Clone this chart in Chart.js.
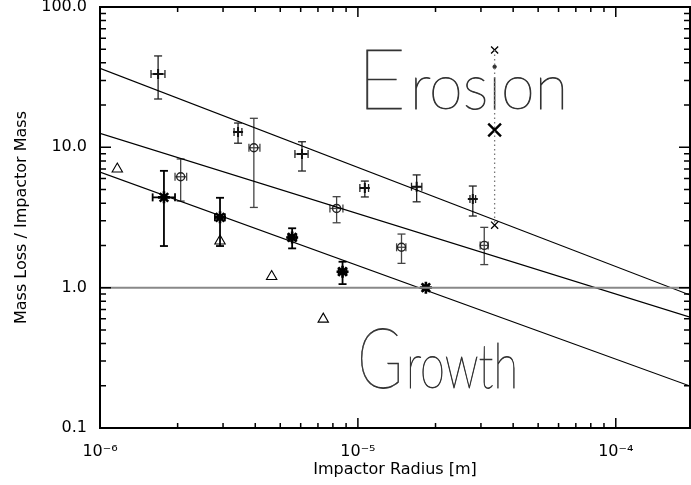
<!DOCTYPE html>
<html>
<head>
<meta charset="utf-8">
<script src="https://cdn.jsdelivr.net/npm/chart.js@4"></script>
<style>
  html, body { margin: 0; padding: 0; background: #fff; }
  #wrap { width: 691px; height: 485px; }
</style>
</head>
<body>
<div id="wrap"><canvas id="c"></canvas></div>
<script>
// axis range
const xMin = 1e-6, xMax = 1.94e-4
const yMin = 0.1, yMax = 100

// upper group (+ markers)
const plusX   = [1.68e-6, 3.43e-6, 6.07e-6, 1.064e-5, 1.69e-5, 2.79e-5]
const plusY   = [33.3, 12.85, 8.96, 5.13, 5.24, 4.28]
const plusYLo = [22.1, 10.7, 6.78, 4.43, 4.09, 3.24]
const plusYHi = [44.8, 14.9, 10.96, 5.75, 6.36, 5.3]
const plusXLo = [1.577e-6, 3.31e-6, 5.70e-6, 1.018e-5, 1.614e-5, 2.72e-5]
const plusXHi = [1.786e-6, 3.55e-6, 6.41e-6, 1.10e-5, 1.77e-5, 2.86e-5]

// middle group (ring markers)
const ringX   = [2.055e-6, 3.95e-6, 8.27e-6, 1.476e-5, 3.09e-5]
const ringY   = [6.17, 9.93, 3.67, 1.94, 2.0]
const ringYLo = [4.14, 3.73, 2.90, 1.49, 1.46]
const ringYHi = [8.26, 16.1, 4.45, 2.41, 2.69]
const ringXLo = [1.954e-6, 3.78e-6, 7.79e-6, 1.413e-5, 2.98e-5]
const ringXHi = [2.168e-6, 4.17e-6, 8.75e-6, 1.535e-5, 3.20e-5]

// lower group (star markers)
const starX   = [1.77e-6, 2.92e-6, 5.56e-6, 8.72e-6, 1.835e-5]
const starY   = [4.40, 3.17, 2.28, 1.30, 1.0]
const starYLo = [1.98, 1.98, 1.905, 1.06, 1.0]
const starYHi = [6.8, 4.37, 2.65, 1.53, 1.0]
const starXLo = [1.60e-6, 2.79e-6, 5.37e-6, 8.42e-6, 1.79e-5]
const starXHi = [1.954e-6, 3.05e-6, 5.77e-6, 9.03e-6, 1.88e-5]

// triangles
const triX = [1.167e-6, 2.92e-6, 4.63e-6, 7.34e-6]
const triY = [7.0, 2.15, 1.20, 0.597]

// single column at the right
const colX = [3.39e-5]
const colSmallY = [49.4, 2.79]
const colBigY = [13.3]

// fit lines (values at the two ends of the x range)
const fitX = [xMin, xMax]
const fitTop = [36.6, 0.886]
const fitMid = [12.6, 0.617]
const fitLow = [6.67, 0.199]
const unityY = [1, 1]

const pts = (xs, ys) => xs.map((x, i) => ({x: x, y: ys[i]}))

const errorBars = {
  id: 'errorBars',
  beforeDatasetsDraw(chart) {
    const ctx = chart.ctx, sx = chart.scales.x, sy = chart.scales.y
    const seg = (a, b, c, d) => { ctx.beginPath(); ctx.moveTo(a, b); ctx.lineTo(c, d); ctx.stroke() }
    chart.data.datasets.forEach(ds => {
      const e = ds.errors
      if (!e) return
      ctx.save()
      ctx.strokeStyle = e.color
      ctx.lineWidth = e.width
      const cap = e.cap
      ds.data.forEach((p, i) => {
        const px = sx.getPixelForValue(p.x), py = sy.getPixelForValue(p.y)
        const a = sy.getPixelForValue(e.yLo[i]), b = sy.getPixelForValue(e.yHi[i])
        if (Math.abs(a - b) > 1) {
          seg(px, a, px, b); seg(px - cap, a, px + cap, a); seg(px - cap, b, px + cap, b)
        }
        const l = sx.getPixelForValue(e.xLo[i]), r = sx.getPixelForValue(e.xHi[i])
        if (Math.abs(r - l) > 1) {
          seg(l, py, r, py); seg(l, py - cap, l, py + cap); seg(r, py - cap, r, py + cap)
        }
      })
      ctx.restore()
    })
  }
}

// big region words: capital and lower case sized separately, squeezed to width
const drawWord = (ctx, word, x, base, width) => {
  const capFont = '100 84px Lato', lowFont = '100 61px Lato'
  ctx.font = capFont
  const w1 = ctx.measureText(word[0]).width
  ctx.font = lowFont
  const w2 = ctx.measureText(word.slice(1)).width
  const k = width / (w1 + w2 + 4)
  ctx.save()
  ctx.translate(x, base)
  ctx.scale(k, 1)
  ctx.font = capFont
  ctx.fillText(word[0], 0, 0)
  ctx.strokeText(word[0], 0, 0)
  ctx.font = lowFont
  ctx.fillText(word.slice(1), w1 + 4, 0)
  ctx.strokeText(word.slice(1), w1 + 4, 0)
  ctx.restore()
}

const labels = {
  id: 'labels',
  beforeDatasetsDraw(chart) {
    const ctx = chart.ctx
    ctx.save()
    ctx.fillStyle = '#333'
    ctx.strokeStyle = '#333'
    ctx.lineWidth = 0.8
    ctx.textBaseline = 'alphabetic'
    ctx.textAlign = 'left'
    drawWord(ctx, 'Erosion', 357, 109, 211)
    drawWord(ctx, 'Growth', 357, 388, 161)
    ctx.restore()
  }
}

const frame = {
  id: 'frame',
  afterDraw(chart) {
    const ctx = chart.ctx, a = chart.chartArea
    ctx.save()
    ctx.strokeStyle = '#000'
    ctx.lineWidth = 1.5
    const tickInfo = v => {
      const ex = Math.floor(Math.log10(v) + 1e-9)
      const m = v / Math.pow(10, ex)
      return {ok: Math.abs(m - Math.round(m)) < 1e-6, major: Math.abs(m - 1) < 1e-6}
    }
    ctx.beginPath()
    chart.scales.x.ticks.forEach(t => {
      const info = tickInfo(t.value)
      if (!info.ok) return
      const x = chart.scales.x.getPixelForValue(t.value)
      if (x <= a.left + 1 || x >= a.right - 1) return
      const len = info.major ? 10 : 5
      ctx.moveTo(x, a.bottom); ctx.lineTo(x, a.bottom - len)
      ctx.moveTo(x, a.top); ctx.lineTo(x, a.top + len)
    })
    chart.scales.y.ticks.forEach(t => {
      const info = tickInfo(t.value)
      if (!info.ok) return
      const y = chart.scales.y.getPixelForValue(t.value)
      if (y <= a.top + 1 || y >= a.bottom - 1) return
      const len = info.major ? 11 : 6
      ctx.moveTo(a.left, y); ctx.lineTo(a.left + len, y)
      ctx.moveTo(a.right, y); ctx.lineTo(a.right - len, y)
    })
    ctx.stroke()
    ctx.lineWidth = 2
    ctx.strokeRect(a.left, a.top, a.right - a.left, a.bottom - a.top)
    ctx.restore()
  }
}

const supers = {'-': '\u207B', '0': '\u2070', '1': '\u00B9', '2': '\u00B2', '3': '\u00B3', '4': '\u2074', '5': '\u2075', '6': '\u2076', '7': '\u2077', '8': '\u2078', '9': '\u2079'}
const isPow = v => Math.abs(Math.log10(v) - Math.round(Math.log10(v))) < 1e-6
const noPad = s => { s.paddingTop = 0; s.paddingBottom = 0; s.paddingLeft = 0; s.paddingRight = 0 }

const fitLine = (ys) => ({
  type: 'line', data: pts(fitX, ys), borderColor: '#000', borderWidth: 1.2,
  pointRadius: 0, fill: false, tension: 0
})

new Chart(document.getElementById('c'), {
  type: 'scatter',
  data: {
    datasets: [
      {type: 'line', data: pts(fitX, unityY), borderColor: '#888', borderWidth: 2, pointRadius: 0},
      fitLine(fitTop),
      fitLine(fitMid),
      fitLine(fitLow),
      {type: 'line', data: pts([colX[0], colX[0]], colSmallY), borderColor: '#777', borderWidth: 1.3,
       borderDash: [1.5, 3], pointRadius: 0},
      {data: pts(plusX, plusY), pointStyle: 'cross', pointRadius: 5, borderColor: '#111', borderWidth: 2,
       errors: {yLo: plusYLo, yHi: plusYHi, xLo: plusXLo, xHi: plusXHi, color: '#222', width: 1.3, cap: 4}},
      {data: pts(ringX, ringY), pointStyle: 'circle', pointRadius: 4, borderColor: '#222', borderWidth: 1.4,
       backgroundColor: 'rgba(0,0,0,0)',
       errors: {yLo: ringYLo, yHi: ringYHi, xLo: ringXLo, xHi: ringXHi, color: '#444', width: 1.3, cap: 4}},
      {data: pts(starX, starY), pointStyle: 'star', pointRadius: 6, borderColor: '#000', borderWidth: 2.6,
       errors: {yLo: starYLo, yHi: starYHi, xLo: starXLo, xHi: starXHi, color: '#000', width: 1.8, cap: 4}},
      {data: pts(triX, triY), pointStyle: 'triangle', pointRadius: 6, borderColor: '#000', borderWidth: 1.1,
       backgroundColor: 'rgba(0,0,0,0)'},
      {data: pts([colX[0], colX[0]], colSmallY), pointStyle: 'crossRot', pointRadius: 5, borderColor: '#000', borderWidth: 1.3},
      {data: pts(colX, colBigY), pointStyle: 'crossRot', pointRadius: 9, borderColor: '#000', borderWidth: 2.4}
    ]
  },
  options: {
    responsive: true,
    maintainAspectRatio: false,
    animation: false,
    layout: {autoPadding: false, padding: {top: 7, right: 1, left: 0, bottom: 0}},
    plugins: {legend: {display: false}, tooltip: {enabled: false}},
    scales: {
      x: {
        type: 'logarithmic', min: xMin, max: xMax,
        grid: {display: false}, border: {display: false},
        afterFit: s => { s.height = 57; noPad(s) },
        ticks: {
          autoSkip: false, maxRotation: 0, padding: 6, color: '#000',
          font: {family: 'DejaVu Sans', size: 16},
          callback: v => isPow(v) ? '10' + String(Math.round(Math.log10(v))).split('').map(c => supers[c]).join('') : ''
        },
        title: {display: true, text: 'Impactor Radius [m]', color: '#000',
          font: {family: 'DejaVu Sans', size: 16}, padding: {top: 6, bottom: 6}}
      },
      y: {
        type: 'logarithmic', min: yMin, max: yMax,
        grid: {display: false}, border: {display: false},
        afterFit: s => { s.width = 100; noPad(s) },
        ticks: {
          autoSkip: false, padding: 5, color: '#000',
          font: {family: 'DejaVu Sans', size: 16},
          callback: v => isPow(v) ? v.toFixed(1) : ''
        },
        title: {display: true, text: 'Mass Loss / Impactor Mass', color: '#000',
          font: {family: 'DejaVu Sans', size: 16}, padding: {top: 12, bottom: 10}}
      }
    }
  },
  plugins: [errorBars, labels, frame]
})
</script>
</body>
</html>
